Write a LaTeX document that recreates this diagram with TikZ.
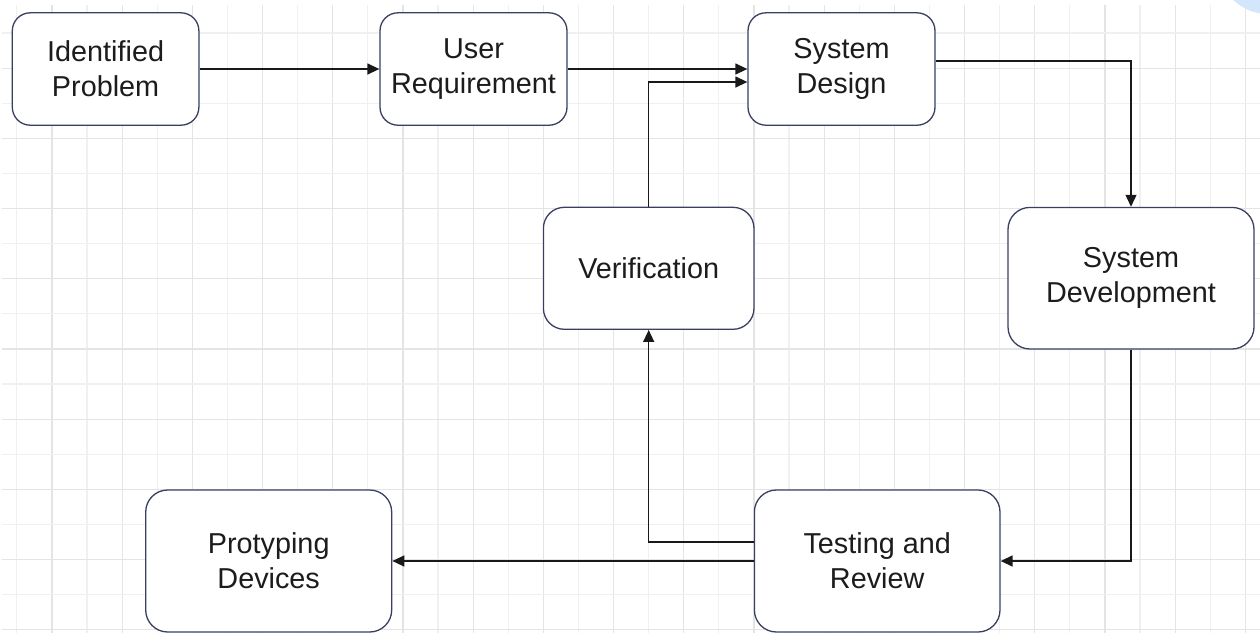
\documentclass[tikz,border=0pt]{standalone}
\usepackage{fontspec}
\setmainfont{Liberation Sans}
\usetikzlibrary{arrows.meta,calc}
\definecolor{boxline}{RGB}{58,63,98}
\definecolor{edgecol}{RGB}{25,25,25}
\definecolor{gridA}{RGB}{228,228,228}
\definecolor{gridB}{RGB}{240,240,240}
\definecolor{blobblue}{RGB}{212,230,252}
\definecolor{txtcol}{RGB}{28,28,28}
\tikzset{
  stagebox/.style={draw=boxline, line width=0.65pt, fill=white, inner sep=0pt,
    align=center, text=txtcol, font=\fontsize{14.4pt}{17.6pt}\selectfont},
  flow/.style={draw=edgecol, line width=0.7pt, -{Triangle[length=6pt,width=5.5pt]}},
  gridlineA/.style={draw=gridA, line width=0.6pt},
  gridlineB/.style={draw=gridB, line width=0.6pt},
}
\begin{document}
\begin{tikzpicture}[x=0.5pt,y=-0.5pt]
\useasboundingbox (0,0) rectangle (1260,633);
\fill[white] (0,0) rectangle (1260,633);
% grid
\foreach \k in {0,...,35}{
  \pgfmathsetmacro\gx{16.8+35.1*\k}
  \ifodd\k\relax
    \draw[gridlineA] (\gx,5) -- (\gx,633);
  \else
    \draw[gridlineB] (\gx,5) -- (\gx,633);
  \fi
}
\foreach \k in {0,...,17}{
  \pgfmathsetmacro\gy{33+35.1*\k}
  \ifodd\k\relax
    \draw[gridlineA] (2,\gy) -- (1260,\gy);
  \else
    \draw[gridlineB] (2,\gy) -- (1260,\gy);
  \fi
}
\begin{scope}
  \clip (0,0) rectangle (1260,633);
  \fill[blobblue] (1268,-36) circle[radius=25pt];
\end{scope}
% nodes
\node[stagebox, minimum width=93.3pt, minimum height=56.2pt, rounded corners=9pt] (ID) at (105.6,69) {Identified\\Problem};
\node[stagebox, minimum width=93.5pt, minimum height=56.2pt, rounded corners=9pt] (UR) at (473.5,69) {User\\Requirement};
\node[stagebox, minimum width=93.5pt, minimum height=56.2pt, rounded corners=9pt] (SD) at (841.5,69) {System\\Design};
\node[stagebox, minimum width=105.3pt, minimum height=61pt, rounded corners=10.5pt] (VER) at (648.7,268.3) {Verification};
\node[stagebox, minimum width=123pt, minimum height=70.8pt, rounded corners=11pt] (DEV) at (1131,278.2) {System\\Development};
\node[stagebox, minimum width=122.8pt, minimum height=71pt, rounded corners=11pt] (TEST) at (877.2,561) {Testing and\\Review};
\node[stagebox, minimum width=123pt, minimum height=71pt, rounded corners=11pt] (PROT) at (268.7,561) {Protyping\\Devices};
% connectors
\draw[flow] (ID.east) -- (UR.west);
\draw[flow] (UR.east) -- (SD.west);
\draw[flow] (VER.north) |- ($(SD.west)+(0,13)$);
\draw[flow] ($(SD.east)+(0,-8)$) -| (DEV.north);
\draw[flow] (DEV.south) |- (TEST.east);
\draw[flow] (TEST.west) -- (PROT.east);
\draw[flow] ($(TEST.west)+(0,-19)$) -| (VER.south);
\end{tikzpicture}
\end{document}
